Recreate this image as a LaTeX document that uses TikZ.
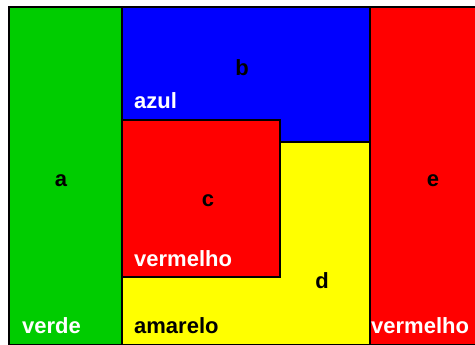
\documentclass[tikz,border=0pt]{standalone}
\usepackage{fontspec}
\setmainfont{Liberation Sans}
\definecolor{cgreen}{RGB}{0,204,0}
\definecolor{cblue}{RGB}{0,0,255}
\definecolor{cred}{RGB}{255,0,0}
\definecolor{cyellow}{RGB}{255,255,0}
\tikzset{
  region/.style={draw=black, line width=2pt},
  lbl/.style={font=\fontsize{22}{22}\selectfont\bfseries, inner sep=0pt},
}
\begin{document}
\begin{tikzpicture}[x=1pt,y=-1pt]
\useasboundingbox (0,0) rectangle (475,345);
\clip (0,0) rectangle (475,345);
\fill[white] (0,0) rectangle (475,345);
\filldraw[region, fill=cgreen] (9,7) rectangle (122,345);
\filldraw[region, fill=cblue] (122,7) rectangle (370,142);
\filldraw[region, fill=cyellow] (122,142) rectangle (370,345);
\filldraw[region, fill=cred] (122,120) rectangle (280,277);
\filldraw[region, fill=cred] (370,7) rectangle (480,345);
\node[lbl, anchor=base] (la) at (61,187) {a};
\node[lbl, anchor=base] (lb) at (242,75.5) {b};
\node[lbl, anchor=base] (lc) at (208,207) {c};
\node[lbl, anchor=base] (ld) at (322,288.5) {d};
\node[lbl, anchor=base] (le) at (433,187) {e};
\node[lbl, anchor=base west, text=white] (azul) at (134,109) {azul};
\node[lbl, anchor=base west, text=white] (verm1) at (134,266) {vermelho};
\node[lbl, anchor=base west, text=white] (verde) at (22,334) {verde};
\node[lbl, anchor=base west, text=black] (amarelo) at (134,334) {amarelo};
\node[lbl, anchor=base west, text=white] (verm2) at (371,334) {vermelho};
\end{tikzpicture}
\end{document}
